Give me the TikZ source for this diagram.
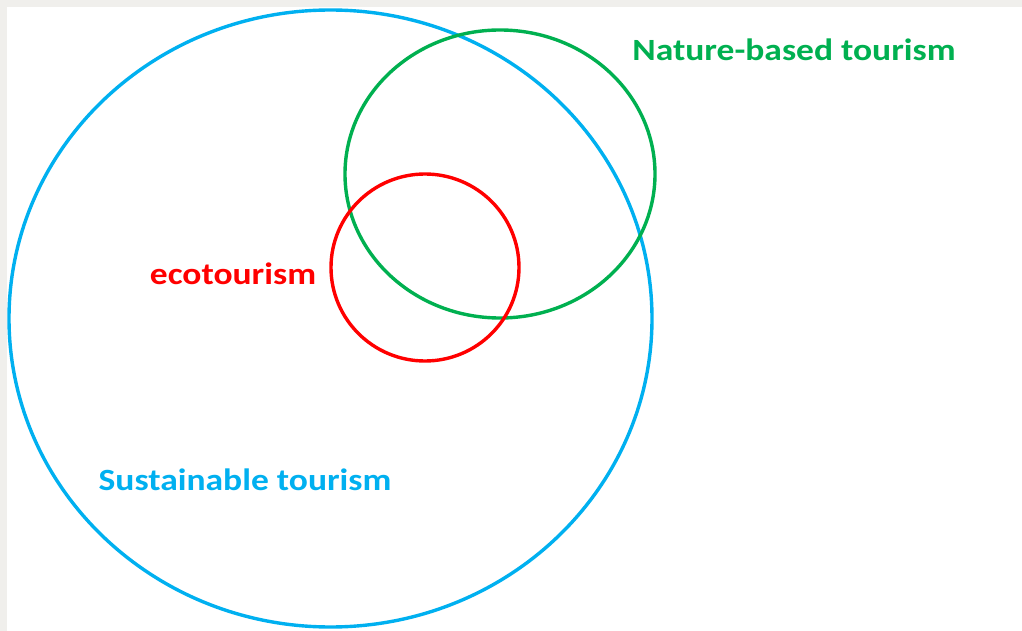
\documentclass[tikz,border=0pt]{standalone}
\usepackage{fontspec}
\setmainfont{Carlito}
\definecolor{sblue}{HTML}{00B0F0}
\definecolor{ngreen}{HTML}{00B050}
\definecolor{ered}{HTML}{FF0000}
\definecolor{bgray}{HTML}{F0EFEC}
\newcommand{\wide}[1]{\scalebox{1.15}[1]{#1}}
\begin{document}
\begin{tikzpicture}[x=1bp,y=-1bp,
  ring/.style={line width=3.4bp},
  lab/.style={font=\fontsize{31}{34}\selectfont\bfseries, inner sep=0pt, anchor=center}]
\useasboundingbox (0,0) rectangle (1022,631);
\fill[bgray] (0,0) rectangle (1022,631);
\fill[white] (7,7) rectangle (1022,631);
\draw[ring, sblue] (330.5,318.5) ellipse [x radius=321.5, y radius=308.5];
\draw[ring, ngreen] (500,174) ellipse [x radius=155, y radius=144];
\draw[ring, ered] (425,267.5) ellipse [x radius=94, y radius=93.5];
\node[lab, text=ngreen] (nat) at (794,50) {\wide{Nature-based tourism}};
\node[lab, text=ered] (eco) at (233,274) {\wide{ecotourism}};
\node[lab, text=sblue] (sus) at (245,480) {\wide{Sustainable tourism}};
\end{tikzpicture}
\end{document}
